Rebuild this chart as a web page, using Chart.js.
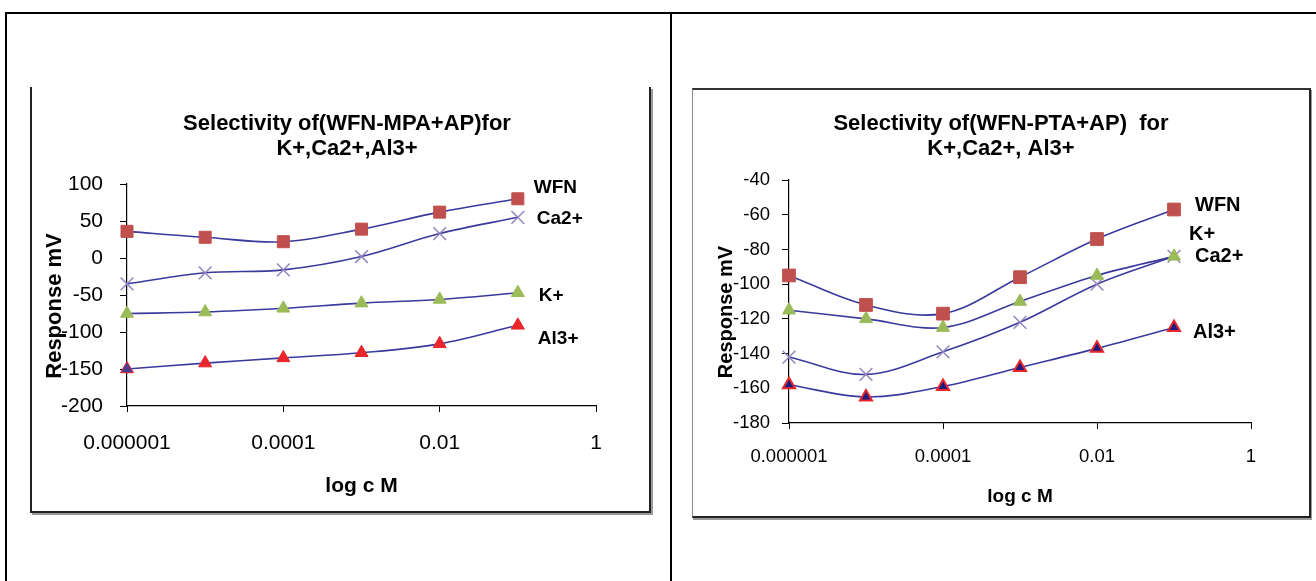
<!DOCTYPE html>
<html>
<head>
<meta charset="utf-8">
<script src="https://cdn.jsdelivr.net/npm/chart.js@4.4.1/dist/chart.umd.min.js"></script>
<style>
html, body { margin:0; padding:0; background:#fff; }
body { width:1316px; height:581px; overflow:hidden; position:relative; font-family:"Liberation Sans", Arial, sans-serif; }
.ln { position:absolute; background:#000; }
.frame { position:absolute; box-sizing:content-box; }
canvas { position:absolute; }
</style>
</head>
<body>
<!-- outer table borders -->
<div class="ln" style="left:5px;top:12px;width:1311px;height:2px"></div>
<div class="ln" style="left:5px;top:12px;width:2px;height:569px"></div>
<div class="ln" style="left:670px;top:12px;width:2px;height:569px"></div>

<!-- chart frames -->
<div class="frame" style="left:30px;top:87px;width:617px;height:424px;border-left:2px solid #222;border-right:2px solid #222;border-bottom:2px solid #222;box-shadow:2px 2px 0 #9a9a9a"></div>
<div class="frame" style="left:692px;top:88px;width:616px;height:426px;border-left:1px solid #888;border-top:2px solid #333;border-right:2px solid #222;border-bottom:2px solid #222;box-shadow:1px 2px 0 #9a9a9a"></div>

<canvas id="c1" width="630" height="424" style="left:32px;top:87px"></canvas>
<canvas id="c2" width="616" height="426" style="left:693px;top:90px"></canvas>

<script>
// ---------- data ----------
const concentrations = [1e-6, 1e-5, 1e-4, 1e-3, 1e-2, 1e-1];

// Left chart: Selectivity of (WFN-MPA+AP)
const mpaWFN = [36, 28, 22, 39, 62, 80];
const mpaCa  = [-35, -20, -16, 2, 33, 55];
const mpaK   = [-75, -73, -68, -61, -56, -47];
const mpaAl  = [-150, -142, -135, -128, -116, -91];

// Right chart: Selectivity of (WFN-PTA+AP)
const ptaWFN = [-95, -112, -117, -96, -74, -57];
const ptaK   = [-115, -120, -125, -110, -95, -84];
const ptaCa  = [-142, -152, -139, -122, -100, -84];
const ptaAl  = [-158, -165, -159, -148, -137, -125];

const xTickValues = [1e-6, 1e-4, 1e-2, 1];
const xTickLabels = ['0.000001', '0.0001', '0.01', '1'];
const mpaYTicks = [-200, -150, -100, -50, 0, 50, 100];
const ptaYTicks = [-180, -160, -140, -120, -100, -80, -60, -40];

const mpaTitle = ['Selectivity of(WFN-MPA+AP)for', 'K+,Ca2+,Al3+'];
const ptaTitle = ['Selectivity of(WFN-PTA+AP)  for', 'K+,Ca2+, Al3+'];
const xAxisTitle = 'log c M';
const yAxisTitle = 'Response mV';

// ---------- styling ----------
const FONT = '"Liberation Sans", Arial, sans-serif';
const LINE = '#3A3A9E';
const RED_SQ = '#C0504D';
const GREEN = '#9BBB59';
const PURPLE = '#9384C0';
const RED_TRI = '#E8262B';
const NAVY = '#1C1C80';

const toXY = (vals) => vals.map((v, i) => ({ x: concentrations[i], y: v }));

const seriesLabelPlugin = {
  id: 'seriesLabels',
  afterDatasetsDraw(chart, args, opts) {
    const ctx = chart.ctx;
    ctx.save();
    ctx.font = 'bold ' + opts.size + 'px ' + FONT;
    ctx.fillStyle = '#000';
    ctx.textAlign = 'left';
    ctx.textBaseline = 'middle';
    chart.data.datasets.forEach((ds, i) => {
      const meta = chart.getDatasetMeta(i);
      const pt = meta.data[meta.data.length - 1];
      const off = opts.offsets[i];
      ctx.fillText(ds.label, pt.x + off[0], pt.y + off[1]);
    });
    ctx.restore();
  }
};

const yTitlePlugin = {
  id: 'yTitle',
  afterDraw(chart, args, opts) {
    const ctx = chart.ctx;
    ctx.save();
    ctx.translate(opts.x, opts.y);
    ctx.rotate(-Math.PI / 2);
    ctx.font = 'bold ' + opts.size + 'px ' + FONT;
    ctx.fillStyle = '#000';
    ctx.textAlign = 'center';
    ctx.textBaseline = 'middle';
    ctx.fillText(opts.text, 0, 0);
    ctx.restore();
  }
};

function lineDs(label, values, style) {
  return Object.assign({
    label: label,
    data: toXY(values),
    borderColor: LINE,
    borderWidth: 1.6,
    tension: 0.35,
    fill: false,
    clip: false
  }, style);
}

function makeChart(id, cfg) {
  return new Chart(document.getElementById(id), {
    type: 'line',
    data: { datasets: cfg.datasets },
    plugins: [seriesLabelPlugin, yTitlePlugin],
    options: {
      responsive: false,
      animation: false,
      devicePixelRatio: 1,
      layout: { padding: 0 },
      plugins: {
        legend: { display: false },
        tooltip: { enabled: false },
        title: {
          display: true,
          text: cfg.title,
          color: '#000',
          font: { family: FONT, size: 22, weight: 'bold', lineHeight: 25 / 22 },
          padding: { top: cfg.titleTop, bottom: cfg.titleBottom }
        },
        seriesLabels: { size: cfg.labelSize, offsets: cfg.labelOffsets },
        yTitle: { text: yAxisTitle, x: cfg.yTitleX, y: cfg.yTitleY, size: cfg.yTitleSize }
      },
      scales: {
        x: {
          type: 'logarithmic',
          min: 1e-6,
          max: 1,
          afterBuildTicks: (s) => { s.ticks = xTickValues.map(v => ({ value: v })); },
          afterFit: (s) => { s.height = cfg.xHeight; },
          ticks: {
            autoSkip: false,
            maxRotation: 0,
            color: '#000',
            padding: cfg.xTickPad,
            font: { family: FONT, size: cfg.tickSize },
            callback: (v, i) => xTickLabels[i]
          },
          grid: { display: true, drawOnChartArea: false, drawTicks: true, tickLength: 6, tickColor: '#000', tickWidth: 1 },
          border: { display: true, color: '#000', width: 1.2 },
          title: {
            display: true,
            text: xAxisTitle,
            color: '#000',
            font: { family: FONT, size: cfg.xTitleSize, weight: 'bold' },
            padding: { top: 0, bottom: cfg.xTitlePadBottom }
          }
        },
        y: {
          type: 'linear',
          position: 'left',
          min: cfg.yTicks[0],
          max: cfg.yTicks[cfg.yTicks.length - 1],
          afterBuildTicks: (s) => { s.ticks = cfg.yTicks.map(v => ({ value: v })); },
          afterFit: (s) => { s.width = cfg.yWidth; },
          ticks: {
            color: '#000',
            padding: cfg.yTickPad,
            font: { family: FONT, size: cfg.tickSize },
            callback: (v) => String(v)
          },
          grid: { display: true, drawOnChartArea: false, drawTicks: true, tickLength: 7, tickColor: '#000', tickWidth: 1 },
          border: { display: true, color: '#000', width: 1.2 }
        },
        // empty right-hand gutter that holds the series labels
        gutter: {
          type: 'linear',
          position: 'right',
          display: true,
          afterFit: (s) => { s.width = cfg.rightGutter; },
          ticks: { display: false },
          grid: { display: false },
          border: { display: false },
          title: { display: false }
        }
      }
    }
  });
}

// Left chart
makeChart('c1', {
  title: mpaTitle,
  titleTop: 24, titleBottom: 23,
  yWidth: 95, rightGutter: 66,
  xHeight: 105,
  yTicks: mpaYTicks,
  tickSize: 21, xTickPad: 19, yTickPad: 17,
  xTitleSize: 21, xTitlePadBottom: 12,
  yTitleX: 23, yTitleY: 219, yTitleSize: 22,
  labelSize: 19,
  labelOffsets: [[16, -11], [19, 1], [21, 3], [20, 13]],
  datasets: [
    lineDs('WFN', mpaWFN, { pointStyle: 'rect', pointRadius: 8.5, pointBackgroundColor: RED_SQ, pointBorderColor: RED_SQ, pointBorderWidth: 1 }),
    lineDs('Ca2+', mpaCa, { pointStyle: 'crossRot', pointRadius: 9, pointBorderColor: PURPLE, pointBorderWidth: 1.5 }),
    lineDs('K+', mpaK, { pointStyle: 'triangle', pointRadius: 7.5, pointBackgroundColor: GREEN, pointBorderColor: GREEN, pointBorderWidth: 1 }),
    lineDs('Al3+', mpaAl, { pointStyle: 'triangle', pointRadius: 7.5,
      pointBackgroundColor: ['#4A3C8E', RED_TRI, RED_TRI, RED_TRI, RED_TRI, RED_TRI],
      pointBorderColor: RED_TRI, pointBorderWidth: 1 })
  ]
});

// Right chart
makeChart('c2', {
  title: ptaTitle,
  titleTop: 21, titleBottom: 19,
  yWidth: 96, rightGutter: 58,
  xHeight: 93,
  yTicks: ptaYTicks,
  tickSize: 18.5, xTickPad: 17, yTickPad: 12,
  xTitleSize: 19, xTitlePadBottom: 8,
  yTitleX: 33, yTitleY: 222, yTitleSize: 20,
  labelSize: 20,
  labelOffsets: [[21, -4], [15, -22], [21, 0], [19, 5]],
  datasets: [
    lineDs('WFN', ptaWFN, { pointStyle: 'rect', pointRadius: 9, pointBackgroundColor: RED_SQ, pointBorderColor: RED_SQ, pointBorderWidth: 1 }),
    lineDs('K+', ptaK, { pointStyle: 'triangle', pointRadius: 7.5, pointBackgroundColor: GREEN, pointBorderColor: GREEN, pointBorderWidth: 1 }),
    lineDs('Ca2+', ptaCa, { pointStyle: 'crossRot', pointRadius: 9, pointBorderColor: PURPLE, pointBorderWidth: 1.5 }),
    lineDs('Al3+', ptaAl, { pointStyle: 'triangle', pointRadius: 7, pointBackgroundColor: NAVY, pointBorderColor: RED_TRI, pointBorderWidth: 2 })
  ]
});
</script>
</body>
</html>
